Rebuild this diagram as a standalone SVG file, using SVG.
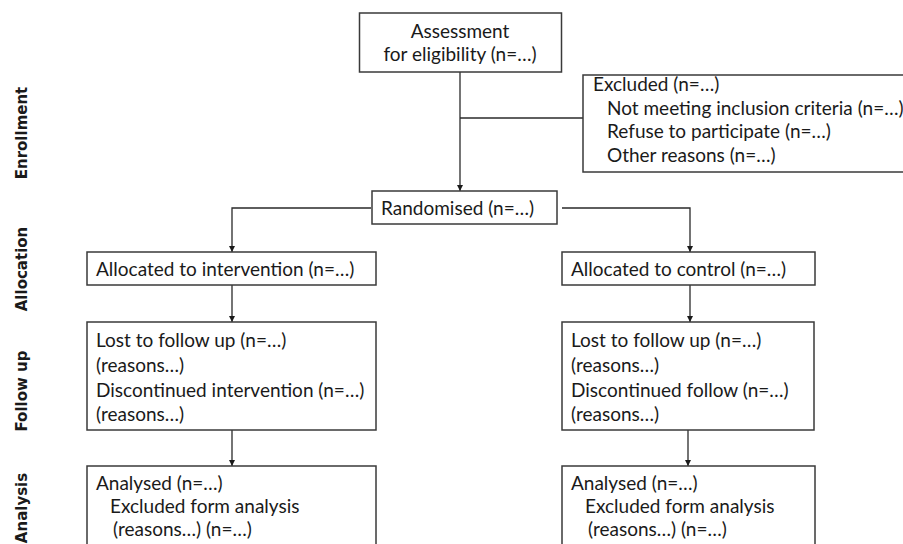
<svg xmlns="http://www.w3.org/2000/svg" width="903" height="544" viewBox="0 0 903 544">
<defs>
<style>
.box{fill:#ffffff;stroke:#3a3a3a;stroke-width:1.5}
.t{font-family:Lato,"Liberation Sans",sans-serif;font-size:19px;fill:#1a1a1a}
.side{font-family:"DejaVu Sans",Verdana,sans-serif;font-weight:bold;font-size:15px;fill:#1a1a1a}
.ln{fill:none;stroke:#2a2a2a;stroke-width:1.3}
</style>
<marker id="arr" viewBox="0 0 10 10" refX="10" refY="5" markerWidth="6" markerHeight="6" markerUnits="userSpaceOnUse" orient="auto">
<path d="M0,0 L10,5 L0,10 z" fill="#1a1a1a"/>
</marker>
</defs>
<rect width="903" height="544" fill="#ffffff"/>
<g id="side-labels">
<text class="side" transform="translate(27,133) rotate(-90)" text-anchor="middle">Enrollment</text>
<text class="side" transform="translate(27,269) rotate(-90)" text-anchor="middle">Allocation</text>
<text class="side" transform="translate(27,391) rotate(-90)" text-anchor="middle">Follow up</text>
<text class="side" transform="translate(27,508) rotate(-90)" text-anchor="middle">Analysis</text>
</g>
<g id="connectors">
<path class="ln" d="M460,72 V191" marker-end="url(#arr)"/>
<path class="ln" d="M460,118 H583"/>
<path class="ln" d="M371,208 H232 V252" marker-end="url(#arr)"/>
<path class="ln" d="M562,208 H690 V252" marker-end="url(#arr)"/>
<path class="ln" d="M232,285 V322" marker-end="url(#arr)"/>
<path class="ln" d="M690,285 V322" marker-end="url(#arr)"/>
<path class="ln" d="M232,430 V466" marker-end="url(#arr)"/>
<path class="ln" d="M688,430 V466" marker-end="url(#arr)"/>
</g>
<g id="assessment">
<rect class="box" x="359.5" y="13" width="202" height="59"/>
<text class="t" x="460" y="38" text-anchor="middle">Assessment</text>
<text class="t" x="460" y="61" text-anchor="middle">for eligibility (n=…)</text>
</g>
<g id="excluded">
<rect class="box" x="583" y="75" width="330" height="97"/>
<text class="t" x="593" y="91">Excluded (n=…)</text>
<text class="t" x="607" y="115">Not meeting inclusion criteria (n=…)</text>
<text class="t" x="607" y="138">Refuse to participate (n=…)</text>
<text class="t" x="607" y="162">Other reasons (n=…)</text>
</g>
<g id="randomised">
<rect class="box" x="372" y="191" width="185" height="33"/>
<text class="t" x="381" y="215">Randomised (n=…)</text>
</g>
<g id="alloc-intervention">
<rect class="box" x="87" y="252" width="289" height="33"/>
<text class="t" x="96" y="276">Allocated to intervention (n=…)</text>
</g>
<g id="alloc-control">
<rect class="box" x="562" y="252" width="253" height="33"/>
<text class="t" x="571" y="276">Allocated to control (n=…)</text>
</g>
<g id="followup-intervention">
<rect class="box" x="87" y="322" width="289" height="108"/>
<text class="t" x="96" y="347">Lost to follow up (n=…)</text>
<text class="t" x="96" y="372">(reasons…)</text>
<text class="t" x="96" y="397">Discontinued intervention (n=…)</text>
<text class="t" x="96" y="421">(reasons…)</text>
</g>
<g id="followup-control">
<rect class="box" x="562" y="322" width="252" height="108"/>
<text class="t" x="571" y="347">Lost to follow up (n=…)</text>
<text class="t" x="571" y="372">(reasons…)</text>
<text class="t" x="571" y="397">Discontinued follow (n=…)</text>
<text class="t" x="571" y="421">(reasons…)</text>
</g>
<g id="analysis-intervention">
<rect class="box" x="87" y="466" width="289" height="100"/>
<text class="t" x="96" y="490">Analysed (n=…)</text>
<text class="t" x="110" y="513">Excluded form analysis</text>
<text class="t" x="113" y="536">(reasons…) (n=…)</text>
</g>
<g id="analysis-control">
<rect class="box" x="562" y="466" width="253" height="100"/>
<text class="t" x="571" y="490">Analysed (n=…)</text>
<text class="t" x="585" y="513">Excluded form analysis</text>
<text class="t" x="588" y="536">(reasons…) (n=…)</text>
</g>
</svg>
